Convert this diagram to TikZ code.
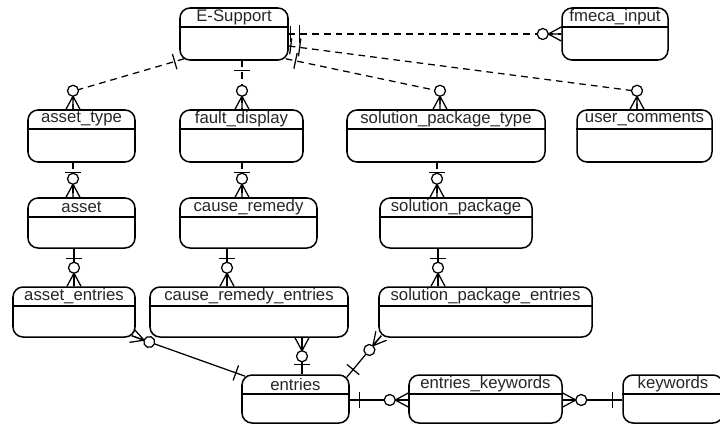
\documentclass[tikz,border=0pt]{standalone}
\usepackage{fontspec}
\setmainfont{Liberation Sans}
\usetikzlibrary{calc,fit,decorations.markings}
\definecolor{LabelClr}{rgb}{0.15,0.15,0.15}

\newcommand{\entity}[6]{%
  \node[entbox, fit={(#2,#3) (#4,#5)}] (#1) {};
  \draw[entline] ($(#1.north west)+(0,20)$) -- ($(#1.north east)+(0,20)$);
  \node[entlabel] (#1-label) at ($(#1.north)+(0,10)$) {#6};
}

\tikzset{
  entbox/.style={draw, rounded corners=6pt, inner sep=0pt, line width=0.9pt},
  entline/.style={line width=0.9pt},
  entlabel/.style={font=\fontsize{10}{12}\selectfont, text=LabelClr, inner sep=0pt},
  rel/.style={line width=0.75pt},
  reldash/.style={rel, dash pattern=on 4pt off 3pt},
  start one/.style={postaction={decorate, decoration={markings,
    mark=at position 0 with {\draw[rel, solid] (10,-8) -- (10,8);}}}},
  start only one/.style={postaction={decorate, decoration={markings,
    mark=at position 0 with {\draw[rel, solid] (2,-8) -- (2,8) (11,-9) -- (11,9);}}}},
  end zero many/.style={postaction={decorate, decoration={markings,
    mark=at position 1 with {\draw[rel, solid] (-13,0) -- (0,0) (-13,0) -- (0,7) (-13,0) -- (0,-7);
      \draw[rel, solid, fill=white] (-18.5,0) circle [radius=5.5];}}}},
}

\begin{document}
\begin{tikzpicture}[x=0.021cm, y=-0.021cm]
\fill[white] (0,0) rectangle (720,425);
\useasboundingbox (0,0) rectangle (720,425);

\entity{es}{180}{8}{288}{60}{E-Support}
\entity{fm}{562}{8}{668}{60}{fmeca\_input}
\entity{at}{28}{110}{135}{162}{asset\_type}
\entity{fd}{180}{110}{303}{162}{fault\_display}
\entity{spt}{347}{110}{545}{162}{solution\_package\_type}
\entity{uc}{577}{110}{712}{162}{user\_comments}
\entity{as}{28}{198}{135}{248}{asset}
\entity{cr}{180}{198}{317}{248}{cause\_remedy}
\entity{sp}{380}{198}{532}{248}{solution\_package}
\entity{ae}{13}{287}{135}{337}{asset\_entries}
\entity{cre}{150}{287}{348}{337}{cause\_remedy\_entries}
\entity{spe}{379}{287}{592}{337}{solution\_package\_entries}
\entity{en}{242}{375}{349}{423}{entries}
\entity{ek}{409}{375}{562}{423}{entries\_keywords}
\entity{kw}{623}{375}{723}{423}{keywords}

\draw[reldash, start only one, end zero many] (es.east |- 0,34) -- (fm.west |- 0,34);
\draw[reldash, start only one, end zero many] (es.east |- 0,46)
  -- ($(uc.north -| 637,0)+(0,-18)$) -- (uc.north -| 637,0);
\draw[reldash, start one, end zero many] ($(es.south east)+(-3,-2)$)
  -- ($(spt.north -| 440,0)+(0,-18)$) -- (spt.north -| 440,0);
\draw[reldash, start one, end zero many] (es.south -| 242,0) -- (fd.north -| 242,0);
\draw[reldash, start one, end zero many] ($(es.south west)+(5,-2)$)
  -- ($(at.north -| 73,0)+(0,-18)$) -- (at.north -| 73,0);

\draw[reldash, start one, end zero many] (at.south -| 73,0) -- (as.north -| 73,0);
\draw[reldash, start one, end zero many] (fd.south -| 242,0) -- (cr.north -| 242,0);
\draw[reldash, start one, end zero many] (spt.south -| 437,0) -- (sp.north -| 437,0);

\draw[rel, start one, end zero many] (as.south -| 74,0) -- (ae.north -| 74,0);
\draw[rel, start one, end zero many] (cr.south -| 227,0) -- (cre.north -| 227,0);
\draw[rel, start one, end zero many] (sp.south -| 438,0) -- (spe.north -| 438,0);

\draw[rel, start one, end zero many] ($(en.north west)+(4,2)$) -- ($(ae.south east)+(-4,-2)$);
\draw[rel, start one, end zero many] (en.north -| 302,0) -- (cre.south -| 302,0);
\draw[rel, start one, end zero many] ($(en.north east)+(-3,3)$) -- ($(spe.south west)+(3,-2)$);
\draw[rel, start one, end zero many] (en.east |- 0,400) -- (ek.west |- 0,400);
\draw[rel, start one, end zero many] (kw.west |- 0,400) -- (ek.east |- 0,400);

\end{tikzpicture}
\end{document}
